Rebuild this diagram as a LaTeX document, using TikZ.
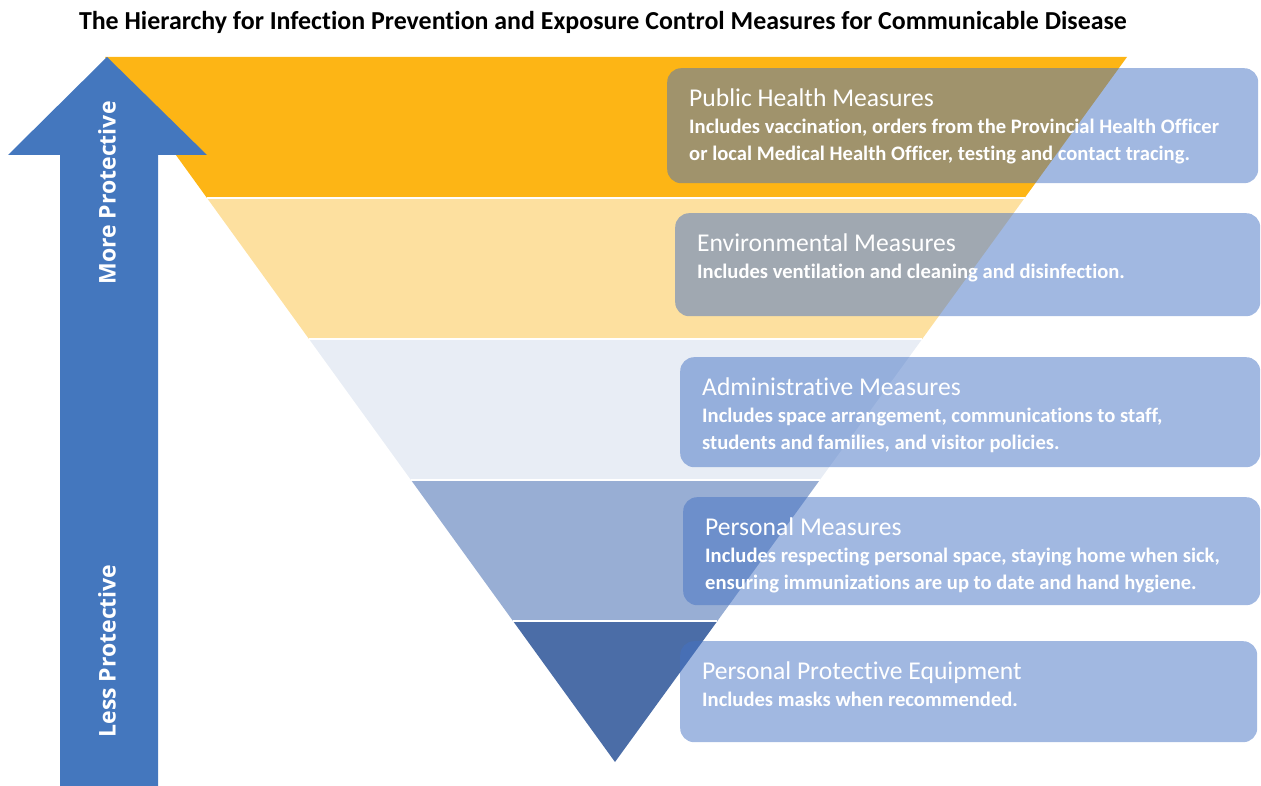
\documentclass[tikz,border=0pt]{standalone}
\usepackage{fontspec}
\setmainfont{Carlito}[Ligatures=NoCommon]
\newfontfamily\arrowfont{Open Sans}
\usetikzlibrary{calc,positioning}

\definecolor{bandA}{HTML}{FDB515}
\definecolor{bandB}{HTML}{FDE09F}
\definecolor{bandC}{HTML}{E8EDF5}
\definecolor{bandD}{HTML}{98AED4}
\definecolor{bandE}{HTML}{4B6DA7}
\definecolor{arrowblue}{HTML}{4477BE}
\definecolor{boxblue}{HTML}{4472C4}

\tikzset{
  measurebox/.style={fill=boxblue, fill opacity=0.5, rounded corners=14pt, anchor=north west, inner sep=0pt},
  measuretext/.style={below right=16pt and 22pt of #1, anchor=north west, align=left, inner sep=0pt, text=white, font=\fontsize{20.6}{27}\selectfont\bfseries},
  arrowlabel/.style={rotate=90, text=white, font=\arrowfont\fontsize{23}{27}\selectfont\bfseries}
}
\newcommand{\headline}[1]{\rule{0pt}{22pt}{\fontsize{25.6}{27}\selectfont\mdseries #1}}

\begin{document}
\begin{tikzpicture}[x=1pt,y=-1pt]
  \clip (0,0) rectangle (1261,786);

  %title
  \node[anchor=base, font=\fontsize{25.9}{30}\selectfont\bfseries] (title) at (603,30) {The Hierarchy for Infection Prevention and Exposure Control Measures for Communicable Disease};

  %inverted triangle
  \coordinate (tl) at (105,57);
  \coordinate (tr) at (1127,57);
  \coordinate (apex) at (615,762);
  \foreach \a/\b/\c in {0/0.2/bandA,0.2/0.4/bandB,0.4/0.6/bandC,0.6/0.8/bandD,0.8/1/bandE}
    \fill[\c] ($(tl)!\a!(apex)$) -- ($(tr)!\a!(apex)$) -- ($(tr)!\b!(apex)$) -- ($(tl)!\b!(apex)$) -- cycle;
  \foreach \t in {0.2,0.4,0.6,0.8}
    \draw[white, line width=2pt] ($(tl)!\t!(apex)$) -- ($(tr)!\t!(apex)$);

  %arrow
  \fill[arrowblue] (107,57) -- (207,155) -- (158,155) -- (158,786) -- (60,786) -- (60,155) -- (8,155) -- cycle;
  \node[arrowlabel] (more) at (107,193) {More Protective};
  \node[arrowlabel] (less) at (107,651) {Less Protective};

  %boxes
  \node[measurebox, minimum width=591pt, minimum height=115pt] (pub) at (667,68) {};
  \node[measurebox, minimum width=585pt, minimum height=103pt] (env) at (675,213) {};
  \node[measurebox, minimum width=580pt, minimum height=110pt] (adm) at (680,357) {};
  \node[measurebox, minimum width=577pt, minimum height=108pt] (pers) at (683,497) {};
  \node[measurebox, minimum width=577pt, minimum height=101pt] (ppe) at (680,641) {};

  %box texts
  \node[measuretext=pub.north west] (pubtext) {\headline{Public Health Measures}\\
    Includes vaccination, orders from the Provincial Health Officer\\
    or local Medical Health Officer, testing and contact tracing.};
  \node[measuretext=env.north west] (envtext) {\headline{Environmental Measures}\\
    Includes ventilation and cleaning and disinfection.};
  \node[measuretext=adm.north west] (admtext) {\headline{Administrative Measures}\\
    Includes space arrangement, communications to staff,\\
    students and families, and visitor policies.};
  \node[measuretext=pers.north west] (perstext) {\headline{Personal Measures}\\
    Includes respecting personal space, staying home when sick,\\
    ensuring immunizations are up to date and hand hygiene.};
  \node[measuretext=ppe.north west] (ppetext) {\headline{Personal Protective Equipment}\\
    Includes masks when recommended.};
\end{tikzpicture}
\end{document}
